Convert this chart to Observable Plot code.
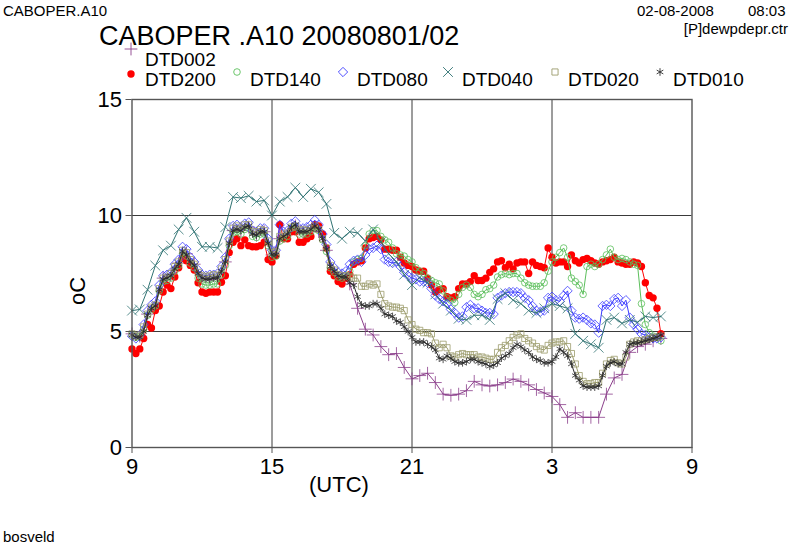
<!DOCTYPE html>
<html><head><meta charset="utf-8">
<script src="https://cdn.jsdelivr.net/npm/d3@7"></script>
<script src="https://cdn.jsdelivr.net/npm/@observablehq/plot@0.6"></script>
<style>
body{margin:0;background:#fff;font-family:"Liberation Sans",Arial,Helvetica,sans-serif;}
#wrap{position:relative;width:790px;height:545px;overflow:hidden;background:#fff;}
#wrap > svg{position:absolute;left:0;top:0;}
.t{position:absolute;white-space:nowrap;color:#000;line-height:1;}
</style></head><body><div id="wrap"></div>
<script>
// ---- data ----
const startUTC = "2008-08-01T09:00:00Z";
const endUTC = "2008-08-02T09:00:00Z";
const xTicks = ["2008-08-01T09:00:00Z","2008-08-01T15:00:00Z","2008-08-01T21:00:00Z","2008-08-02T03:00:00Z","2008-08-02T09:00:00Z"];
const xGrid = ["2008-08-01T15:00:00Z","2008-08-01T21:00:00Z","2008-08-02T03:00:00Z"];
const yTicks = [0,5,10,15];
const yGrid = [5,10];
const seriesNames = ["DTD002","DTD200","DTD140","DTD080","DTD040","DTD020","DTD010"];
const stepMinutes = {DTD002:20, DTD200:10, DTD140:10, DTD080:10, DTD040:20, DTD020:10, DTD010:10};

const dtd002 = [
 4.9,4.8,5.75, 6.1,7.3,7.45, 7.95,8.35,7.9, 7.3,7.25,7.3, 8.0,9.35,9.35, 9.5,9.15,9.3,
 8.3,9.0,9.2, 9.55,9.25,9.35, 9.3,8.5,7.55, 7.3,7.05,6.0, 5.1,4.85,4.35, 4.0,4.05,3.45,
 2.96,3.1,3.2, 2.8,2.3,2.25, 2.3,2.45,2.85, 2.7,2.65,2.7, 2.8,2.95,2.85, 2.7,2.5,2.35,
 2.2,1.85,1.3, 1.5,1.3,1.3, 1.3,2.3,3.0, 3.15,4.1,4.35, 4.45,4.6,4.7];
const dtd200 = [
 4.25,4.05,4.25,4.7,5.3,5.15,
 5.9,6.1,6.7,7.0,6.85,7.35,
 7.75,8.15,8.05,7.85,7.65,7.1,
 6.7,6.65,6.7,6.7,6.7,7.12,
 7.4,8.4,8.85,9.0,8.7,8.95,
 8.7,8.65,8.65,8.7,8.85,8.1,
 8.0,8.27,9.6,9.0,9.0,9.3,
 9.3,8.85,8.85,9.0,9.1,9.6,
 9.55,9.2,8.6,7.6,7.4,7.15,
 7.05,7.3,7.45,7.9,8.0,8.05,
 8.6,9.0,9.05,9.1,8.95,8.55,
 8.55,8.5,8.5,8.2,7.95,7.85,
 7.8,7.65,7.6,7.6,7.3,7.0,
 6.7,6.8,6.85,6.5,6.45,6.5,
 6.85,7.05,7.05,7.15,7.4,7.2,
 7.2,7.3,7.55,7.7,8.0,8.05,
 7.75,7.9,7.7,7.95,8.0,8.0,
 7.5,8.0,7.85,7.8,7.75,8.6,
 8.2,7.95,8.0,8.0,7.8,8.3,
 8.05,7.95,8.1,8.15,8.05,7.95,
 7.9,8.0,8.05,8.1,8.2,8.0,
 7.95,7.9,7.9,8.0,7.95,7.8,
 7.1,6.55,6.45,6.0,4.9];
const dtd140 = [
 4.85,4.75,4.8,5.1,5.7,5.95,
 6.1,6.75,7.15,7.2,7.3,7.6,
 7.85,8.35,8.25,7.95,7.75,7.3,
 7.05,7.0,7.0,7.05,7.05,7.45,
 7.85,8.7,9.25,9.3,9.2,9.4,
 9.45,9.1,9.05,9.2,9.2,8.7,
 8.2,8.25,8.9,9.0,9.1,9.45,
 9.5,9.2,9.2,9.2,9.3,9.5,
 9.35,8.95,8.45,7.75,7.55,7.35,
 7.3,7.4,7.6,8.0,8.1,8.15,
 8.7,9.2,9.35,9.35,9.1,8.95,
 8.85,8.6,8.35,8.3,8.25,8.1,
 8.0,7.75,7.6,7.5,7.3,7.2,
 7.1,7.05,6.75,6.45,6.35,6.25,
 6.6,6.9,7.0,6.9,6.6,6.5,
 6.6,6.8,6.85,7.0,7.35,7.45,
 7.5,7.45,7.5,7.5,7.3,7.1,
 7.0,6.95,6.95,6.95,7.1,7.6,
 8.0,8.2,8.4,8.6,8.2,7.3,
 7.15,7.0,6.6,7.8,7.9,7.8,
 7.9,8.1,8.3,8.55,8.2,8.1,
 8.15,8.1,8.0,7.9,7.85,6.2,
 5.3,4.95,4.8,4.75,4.6];
const dtd080 = [
 4.8,4.7,4.85,5.3,5.9,6.15,
 6.3,7.0,7.4,7.45,7.55,7.9,
 8.1,8.65,8.55,8.2,8.0,7.65,
 7.45,7.4,7.45,7.45,7.5,7.8,
 8.2,9.0,9.55,9.6,9.5,9.65,
 9.7,9.35,9.3,9.45,9.45,9.0,
 8.5,8.5,9.6,9.3,9.35,9.65,
 9.75,9.45,9.45,9.5,9.6,9.8,
 9.6,9.2,8.75,8.0,7.75,7.55,
 7.5,7.6,7.9,8.05,8.1,8.0,
 8.3,8.55,8.6,8.7,8.55,8.1,
 8.0,7.95,8.0,7.8,7.55,7.4,
 7.3,7.25,7.15,7.15,7.1,6.85,
 6.55,6.4,6.3,6.2,5.95,5.8,
 5.6,5.65,6.05,6.15,6.0,6.0,
 5.9,5.8,5.8,5.75,6.45,6.55,
 6.65,6.7,6.7,6.7,6.65,6.45,
 6.35,6.1,5.9,5.85,5.9,6.45,
 6.5,6.35,6.3,6.55,6.75,5.9,
 5.6,5.55,5.6,5.5,5.35,5.3,
 4.95,6.1,6.15,6.1,6.4,6.45,
 6.1,6.35,5.6,5.3,5.1,4.9,
 4.85,4.75,4.7,4.7,4.75];
const dtd040 = [
 5.9,5.95,6.8, 7.84,8.5,8.7, 9.4,9.9,9.3, 8.65,8.65,8.6, 9.5,10.8,10.75, 10.85,10.6,10.65,
 10.0,10.6,10.8, 11.2,10.8,11.15, 11.0,10.5,9.25, 9.0,9.3,9.25, 8.9,9.4,8.85, 8.35,8.0,7.45,
 7.0,7.33,7.1, 6.6,6.2,5.9, 5.55,5.5,5.7, 5.7,5.5,6.4, 6.65,6.35,6.2, 5.9,5.8,6.0,
 6.2,6.1,6.0, 4.9,4.6,4.45, 4.3,5.5,5.6, 5.35,5.5,5.4, 5.65,5.6,5.65];
const dtd020 = [
 4.9,4.8,4.85,5.2,5.75,6.05,
 6.15,6.85,7.3,7.35,7.5,7.8,
 8.0,8.5,8.4,8.1,7.9,7.55,
 7.4,7.35,7.4,7.45,7.4,7.7,
 8.1,8.9,9.45,9.55,9.45,9.6,
 9.6,9.3,9.3,9.4,9.35,8.9,
 8.4,8.45,9.1,9.2,9.25,9.5,
 9.55,9.35,9.4,9.35,9.45,9.55,
 9.4,9.0,8.6,7.85,7.65,7.45,
 7.4,7.4,7.35,7.3,7.3,6.95,
 6.95,7.05,7.0,7.05,6.6,6.2,
 6.1,6.05,6.05,6.0,5.9,5.5,
 5.3,5.1,5.05,4.95,4.95,4.9,
 4.5,4.3,4.45,4.3,3.95,3.9,
 4.0,4.05,4.0,4.0,4.0,3.9,
 3.9,3.85,3.8,3.8,4.1,4.3,
 4.4,4.6,4.75,4.85,4.9,4.7,
 4.6,4.5,4.35,4.25,4.2,4.4,
 4.5,4.55,4.55,4.6,4.35,4.05,
 3.6,3.1,2.85,2.75,2.75,2.8,
 2.8,3.2,3.6,3.75,3.8,3.65,
 3.6,3.9,4.45,4.55,4.6,4.6,
 4.65,4.7,4.75,4.75,4.8];
const dtd010 = [
 4.85,4.75,4.75,5.0,5.7,6.0,
 6.1,6.8,7.25,7.3,7.4,7.7,
 7.9,8.45,8.3,8.0,7.85,7.5,
 7.3,7.25,7.25,7.3,7.3,7.6,
 8.0,8.8,9.35,9.4,9.35,9.5,
 9.55,9.2,9.15,9.3,9.3,8.8,
 8.3,8.3,9.0,9.1,9.2,9.5,
 9.6,9.3,9.3,9.3,9.4,9.55,
 9.4,9.0,8.55,7.8,7.6,7.4,
 7.35,7.35,7.1,7.0,6.5,6.15,
 6.1,6.1,6.2,6.2,6.0,5.75,
 5.7,5.65,5.45,5.4,5.2,5.0,
 4.75,4.55,4.55,4.55,4.45,4.35,
 4.2,3.85,3.8,3.95,3.85,3.7,
 3.65,3.65,3.7,3.8,3.8,3.7,
 3.65,3.6,3.5,3.55,3.65,3.85,
 3.95,4.05,4.3,4.45,4.35,4.2,
 4.1,3.9,3.8,3.75,3.65,3.65,
 3.7,3.9,4.25,4.1,3.95,3.6,
 3.1,2.9,2.65,2.6,2.6,2.6,
 2.65,3.1,3.5,3.65,3.7,3.6,
 3.6,4.1,4.45,4.5,4.5,4.55,
 4.6,4.65,4.7,4.75,4.85];

const seriesValues = {DTD002:dtd002, DTD200:dtd200, DTD140:dtd140, DTD080:dtd080, DTD040:dtd040, DTD020:dtd020, DTD010:dtd010};

// ---- styles ----
const styles = {
  DTD002:{color:"#8b3f8b", symbol:"plus",     r:4.2, fill:"none"},
  DTD200:{color:"#ff0000", symbol:"circle",   r:3.7, fill:"#ff0000"},
  DTD140:{color:"#5cbf5c", symbol:"circle",   r:3.3, fill:"none"},
  DTD080:{color:"#3b3bff", symbol:"diamond2", r:4.2, fill:"none"},
  DTD040:{color:"#2f7272", symbol:"times",    r:4.5, fill:"none"},
  DTD020:{color:"#9c9c6c", symbol:"square2",  r:3.9, fill:"none"},
  DTD010:{color:"#2a2a2a", symbol:"asterisk", r:3.6, fill:"none"}
};
const font = '"Liberation Sans", Arial, Helvetica, sans-serif';

const t0 = new Date(startUTC).getTime();
const rows = seriesNames.map(name => seriesValues[name].map((v, i) => ({
  name, value: v, time: new Date(t0 + i * stepMinutes[name] * 60000)
})));

const marks = [
  Plot.gridX(xGrid.map(d => new Date(d)), {stroke:"#3a3a3a", strokeOpacity:1, strokeWidth:1}),
  Plot.gridY(yGrid, {stroke:"#3a3a3a", strokeOpacity:1, strokeWidth:1})
];
seriesNames.forEach((name, k) => {
  const s = styles[name];
  marks.push(Plot.line(rows[k], {x:"time", y:"value", stroke:s.color, strokeWidth:1}));
  marks.push(Plot.dot(rows[k], {x:"time", y:"value", symbol:s.symbol, r:s.r, stroke:s.color, fill:s.fill, strokeWidth:s.fill === "none" ? 0.8 : 0}));
});
marks.push(Plot.frame({stroke:"#555", strokeWidth:1.4}));
marks.push(Plot.axisX(xTicks.map(d => new Date(d)), {tickSize:6, tickPadding:5, tickFormat:d3.utcFormat("%-H"), label:null, fontSize:22, stroke:"#555"}));
marks.push(Plot.axisY(yTicks, {tickSize:6, tickPadding:4, label:null, fontSize:22, stroke:"#555"}));

const chart = Plot.plot({
  width:790, height:545,
  marginLeft:131.5, marginRight:98.5, marginTop:99, marginBottom:98,
  style:{fontFamily:font, fontSize:"22px", background:"white", color:"#000"},
  x:{type:"utc", domain:[new Date(startUTC), new Date(endUTC)]},
  y:{domain:[0,15]},
  marks
});
const wrap = document.getElementById("wrap");
wrap.appendChild(chart);

// ---- texts ----
function addText(txt, left, top, size, extra) {
  const d = document.createElement("div");
  d.className = "t";
  d.textContent = txt;
  d.style.left = left + "px"; d.style.top = top + "px"; d.style.fontSize = size + "px";
  if (extra) Object.assign(d.style, extra);
  wrap.appendChild(d);
  return d;
}
addText("CABOPER.A10", 3, 3, 15);
addText("02-08-2008", 637, 3, 15);
addText("08:03", 748, 3, 15);
addText("[P]dewpdepr.ctr", 0, 21, 15, {left:"auto", right:"2px"});
addText("CABOPER .A10 20080801/02", 99, 23, 27);
addText("(UTC)", 309, 474, 22);
addText("oC", 64, 280, 22, {transform:"rotate(-90deg)", transformOrigin:"center"});
addText("bosveld", 3, 529, 15);

// ---- legend ----
const legendPos = {
  DTD002:{mx:131, my:49, tx:145, ty:50},
  DTD200:{mx:131, my:74, tx:145, ty:70},
  DTD140:{mx:237, my:72, tx:250, ty:70},
  DTD080:{mx:343, my:72, tx:357, ty:70},
  DTD040:{mx:448, my:72, tx:462, ty:70},
  DTD020:{mx:555, my:72, tx:568, ty:70},
  DTD010:{mx:660, my:72, tx:673, ty:70}
};
const symMap = {plus:d3.symbolPlus, circle:d3.symbolCircle, diamond2:d3.symbolDiamond2, times:d3.symbolTimes, square2:d3.symbolSquare2, asterisk:d3.symbolAsterisk};
const lg = d3.select(wrap).append("svg").attr("width",790).attr("height",100)
  .style("position","absolute").style("left","0px").style("top","0px");
seriesNames.forEach(name => {
  const s = styles[name], p = legendPos[name];
  lg.append("path")
    .attr("transform", `translate(${p.mx},${p.my})`)
    .attr("d", d3.symbol(symMap[s.symbol], Math.PI * s.r * s.r)())
    .attr("fill", s.fill).attr("stroke", s.color).attr("stroke-width", s.fill === "none" ? 0.9 : 0);
  addText(name, p.tx, p.ty, 19);
});
</script></body></html>
